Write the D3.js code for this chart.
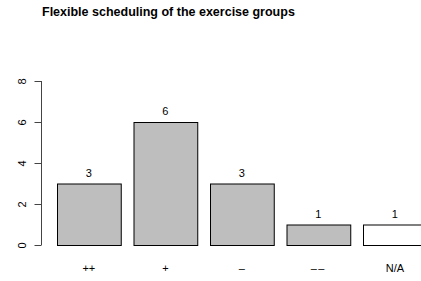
<!DOCTYPE html>
<html>
<head>
<meta charset="utf-8">
<script src="https://cdn.jsdelivr.net/npm/d3@7"></script>
<style>
  body { margin: 0; background: #fff; overflow: hidden; }
  text { font-family: "Liberation Sans", Arial, sans-serif; }
</style>
</head>
<body>
<svg id="chart" width="421" height="281"></svg>
<script>
const categories = ["++", "+", "\u2013", "\u2013\u2013", "N/A"];
const counts = [3, 6, 3, 1, 1];
const fills = ["#bebebe", "#bebebe", "#bebebe", "#bebebe", "#ffffff"];
const yTicks = [0, 2, 4, 6, 8];

const svg = d3.select("#chart");

// bar positions in R barplot units: width 1, space 0.2
const x = d3.scaleLinear().domain([0.2, 6.2]).range([57, 439.5]);
const y = d3.scaleLinear().domain([0, 8]).range([245, 81]);

svg.append("text")
    .attr("x", 42)
    .attr("y", 16)
    .attr("font-size", "12.5px")
    .attr("font-weight", "bold")
    .text("Flexible scheduling of the exercise groups");

const bars = svg.selectAll(".bar")
    .data(counts)
    .enter();

bars.append("rect")
    .attr("x", (d, i) => x(0.2 + i * 1.2) + 0.5)
    .attr("y", d => y(d) + 0.5)
    .attr("width", (d, i) => x(1.2 + i * 1.2) - x(0.2 + i * 1.2))
    .attr("height", d => y(0) - y(d))
    .attr("fill", (d, i) => fills[i])
    .attr("stroke", "#000")
    .attr("stroke-width", 1);

bars.append("text")
    .attr("x", (d, i) => x(0.7 + i * 1.2))
    .attr("y", d => y(d) - 7)
    .attr("text-anchor", "middle")
    .attr("font-size", "11px")
    .text(d => d);

bars.append("text")
    .attr("x", (d, i) => x(0.7 + i * 1.2))
    .attr("y", 272)
    .attr("text-anchor", "middle")
    .attr("font-size", "11px")
    .attr("letter-spacing", (d, i) => categories[i] === "\u2013\u2013" ? "1.5px" : null)
    .text((d, i) => categories[i]);

const yAxis = d3.axisLeft(y).tickValues(yTicks).tickSize(7);
const gy = svg.append("g")
    .attr("transform", "translate(41.5,0)")
    .call(yAxis);
gy.select(".domain").attr("d", `M0,${y(8)}V${y(0)}`).attr("stroke", "#444");
gy.selectAll(".tick line").attr("stroke", "#444");
gy.selectAll(".tick text")
    .attr("font-size", "11px")
    .attr("font-family", "Liberation Sans, Arial, sans-serif")
    .attr("fill", "#000")
    .attr("text-anchor", "middle")
    .attr("dy", null)
    .attr("x", null)
    .attr("transform", "translate(-19.5,0) rotate(-90)")
    .attr("y", 4);
</script>
</body>
</html>
